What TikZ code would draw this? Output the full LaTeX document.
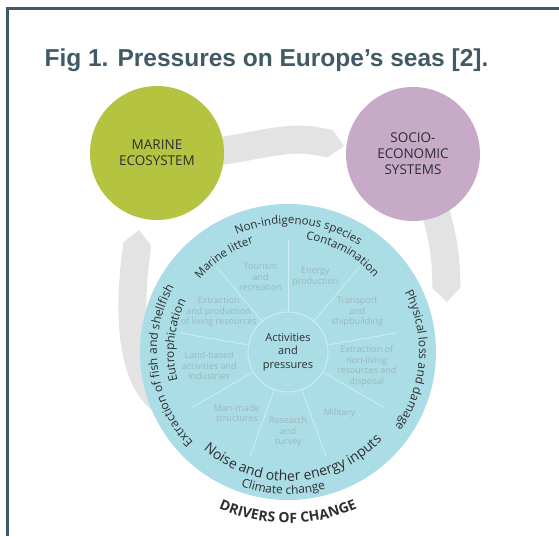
\documentclass[tikz,border=0pt]{standalone}
\usepackage{fontspec}
\setmainfont{Open Sans}
\newfontfamily\titlefont{Liberation Sans}
\usetikzlibrary{arrows.meta,backgrounds,calc,decorations.text}

\definecolor{frameC}{HTML}{405A66}
\definecolor{marineC}{HTML}{B4C441}
\definecolor{socioC}{HTML}{C6AAC8}
\definecolor{seaC}{HTML}{ABDDE6}
\definecolor{lineC}{HTML}{CDEDF2}
\definecolor{sectorTxt}{HTML}{9CB6BE}
\definecolor{darkTxt}{HTML}{2E2E2E}
\definecolor{bandC}{HTML}{E3E3E3}

\begin{document}
\begin{tikzpicture}[x=1pt, y=1pt,
    eco/.style={minimum size=134pt, text=darkTxt, font=\fontsize{13.5}{16}\selectfont},
    band/.style={draw=bandC, line width=28pt, -{Triangle Cap[]}},
    spoke/.style={draw=lineC, line width=0.8pt},
    sector/.style={align=center, inner sep=0pt, text=sectorTxt, font=\fontsize{9}{10.5}\selectfont},
    rimout/.style 2 args={decorate, decoration={text along path, text align=center,
        text={|\fontsize{#1}{#1}\selectfont\color{darkTxt}|#2}}},
    rimin/.style 2 args={decorate, decoration={text along path, text align=center,
        text={|#1\color{darkTxt}|#2}}}]

  \useasboundingbox (0,0) rectangle (559,536);

  % frame and heading
  \draw[frameC, line width=2.5pt] (7.5,0) -- (7.5,527.5) -- (559,527.5);
  \node[anchor=base, text=frameC, font=\titlefont\bfseries\fontsize{24.5}{28}\selectfont]
    (title) at (266.5,469) {Fig 1. Pressures on Europe’s seas [2].};

  \begin{scope}[every node/.style={circle, inner sep=0pt, align=center}]
    \node[eco, fill=marineC] (marine) at (157,383) {MARINE\\ECOSYSTEM};
    \node[eco, fill=socioC]  (socio)  at (413,382) {SOCIO-\\ECONOMIC\\SYSTEMS};
    \node[fill=seaC, minimum size=296pt] (sea) at (288,184) {};
    \node[draw=lineC, line width=1pt, minimum size=80pt, text=darkTxt,
          font=\fontsize{11}{13.5}\selectfont] (hub) at (sea) {Activities\\and\\pressures};
  \end{scope}

  % spokes of the wheel
  \foreach \a in {10,50,...,330}
    \draw[spoke] (hub.\a) -- +(\a:70pt);

  \foreach \a/\txt in {110/{Tourism\\and\\recreation},
                       70/{Energy\\production},
                       30/{Transport\\and\\shipbuilding},
                       -10/{Extraction of\\non-living\\resources and\\disposal},
                       -50/{Military},
                       -90/{Research\\and\\survey},
                       230/{Man-made\\structures},
                       190/{Land-based\\activities and\\industries},
                       150/{Extraction\\and production\\of living resources}}
    \path (sea.center) ++(\a:80pt) node[sector] (act\a) {\txt};

  % cycle between the systems
  \coordinate (topTip)   at (344,390);
  \coordinate (rightTip) at (447,234);
  \coordinate (leftTip)  at (139,306);
  \begin{scope}[on background layer]
    \draw[band] (marine.center) to[out=-5, in=170] (topTip);
    \draw[band] (socio.center) to[out=-65, in=92] (rightTip);
    \draw[band] (sea.center) .. controls +(222:185pt) and +(263:142pt) .. (leftTip);
  \end{scope}

  % pressures round the rim
  \path[rimout={11.5}{Non-indigenous species}] ($(sea.center)+(155:128pt)$) arc[start angle=155, end angle=15, radius=128pt];
  \path[rimout={11.5}{Marine litter}] ($(sea.center)+(194:114pt)$) arc[start angle=194, end angle=54, radius=114pt];
  \path[rimout={11.5}{Contamination}] ($(sea.center)+(131:114pt)$) arc[start angle=131, end angle=-9, radius=114pt];
  \path[rimout={12}{Eutrophication}] ($(sea.center)+(244:114pt)$) arc[start angle=244, end angle=104, radius=114pt];
  \path[rimout={12}{Extraction of fish and shellfish}] ($(sea.center)+(257:131pt)$) arc[start angle=257, end angle=117, radius=131pt];
  \path[rimout={12}{Physical loss and damage}] ($(sea.center)+(66:131pt)$) arc[start angle=66, end angle=-74, radius=131pt];
  \path[rimin={\fontsize{14}{14}\selectfont}{Noise and other energy inputs}] ($(sea.center)+(203:129pt)$) arc[start angle=203, end angle=343, radius=129pt];
  \path[rimin={\fontsize{12}{12}\selectfont}{Climate change}] ($(sea.center)+(198:142pt)$) arc[start angle=198, end angle=338, radius=142pt];
  \path[rimin={\bfseries\fontsize{14}{14}\selectfont}{DRIVERS OF CHANGE}] ($(sea.center)+(200:171pt)$) arc[start angle=200, end angle=340, radius=171pt];

\end{tikzpicture}
\end{document}
